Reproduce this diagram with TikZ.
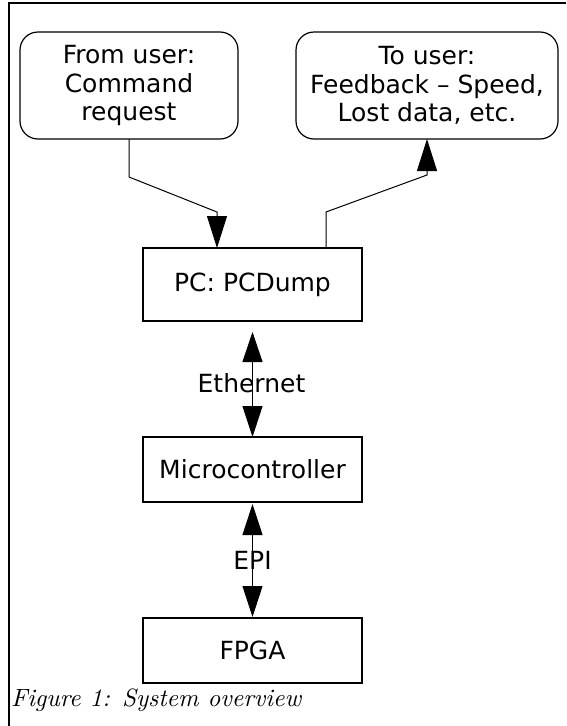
\documentclass[tikz,border=0pt]{standalone}
\usepackage{fontspec}
\newfontfamily\dejavu{DejaVu Sans}
\newfontfamily\capfont{lmroman10-italic}[Extension=.otf]
\usetikzlibrary{arrows.meta}
\begin{document}
\begin{tikzpicture}[x=1pt,y=-1pt,
  every node/.style={inner sep=0pt,outer sep=0pt},
  boxtext/.style={font=\dejavu\fontsize{25}{28.6}\selectfont,align=center},
  userbox/.style={boxtext,draw,line width=1.2pt,rounded corners=18pt,minimum height=107pt},
  blockbox/.style={boxtext,draw,line width=1.2pt,minimum width=219pt},
  conn/.style={line width=1pt},
  tip/.style={-{Triangle[length=32pt,width=20pt]}},
  lbl/.style={font=\dejavu\fontsize{25}{28.6}\selectfont}
]
\useasboundingbox (0,0) rectangle (566,726);
% frame
\draw[line width=1.3pt] (9,726) -- (9,3) -- (566,3);
% nodes
\node[userbox,minimum width=218pt] (from) at (129,85.5) {From user:\\Command\\request};
\node[userbox,minimum width=262pt] (to) at (427,85.5) {To user:\\Feedback – Speed,\\Lost data, etc.};
\node[blockbox,minimum height=73pt] (pc) at (252.5,284.5) {PC: PCDump};
\node[blockbox,minimum height=65pt] (mc) at (252.5,469.5) {Microcontroller};
\node[blockbox,minimum height=65pt] (fpga) at (252.5,650.5) {FPGA};
% left connector
\coordinate (a1) at (129,177);
\coordinate (a2) at (217,212);
\draw[conn,tip] (from.south) -- (a1) -- (a2) -- (a2 |- pc.north);
% right connector
\coordinate (b0) at (326,248);
\coordinate (b1) at (326,212);
\coordinate (b2) at (427,175);
\draw[conn,tip] (b0) -- (b1) -- (b2) -- (to.south);
% Ethernet
\coordinate (e1) at (252.5,332);
\draw[conn,{Triangle[length=30pt,width=20pt]}-{Triangle[length=31pt,width=20pt]}] (e1) -- (mc.north);
\node[lbl] (eth) at (251.5,383) {Ethernet};
% EPI
\coordinate (p1) at (252.5,504);
\coordinate (p2) at (252.5,617);
\draw[conn,{Triangle[length=31pt,width=20pt]}-{Triangle[length=31pt,width=20pt]}] (p1) -- (p2);
\node[lbl] (epi) at (252.5,560) {EPI};
% caption
\node[anchor=base west,font=\capfont\fontsize{25}{30}\selectfont] (cap) at (11,706) {Figure 1: System overview};
\end{tikzpicture}
\end{document}
